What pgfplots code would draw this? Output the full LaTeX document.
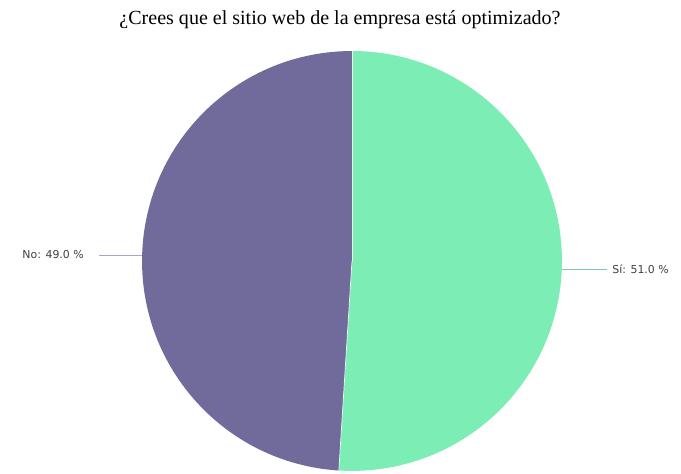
\documentclass[border=0pt]{standalone}
\usepackage{fontspec}
\setmainfont{Liberation Serif}
\newfontfamily\labelfont{DejaVu Sans}
\usepackage{pgfplots}
\usepackage{pgfplotstable}
\pgfplotsset{compat=1.18}
\definecolor{siGreen}{RGB}{124,237,180}
\definecolor{noPurple}{RGB}{112,107,155}
\pgfplotstableread{
label value
Si 51.0
No 49.0
}\piedata
\pgfplotstablegetelem{0}{value}\of\piedata
\let\vsi\pgfplotsretval
\pgfplotstablegetelem{1}{value}\of\piedata
\let\vno\pgfplotsretval
\pgfmathsetmacro\aend{90-3.6*\vsi}
\pgfmathsetmacro\bend{\aend-3.6*\vno}
\begin{document}
\begin{tikzpicture}
\begin{axis}[x=0.02cm,y=0.02cm,xmin=0,xmax=681,ymin=0,ymax=472,
  hide axis, clip=false]
\path (rel axis cs:0,0) rectangle (rel axis cs:1,1);
\fill[siGreen] (axis cs:352,211) -- (axis cs:352,421) arc[start angle=90, end angle=\aend, radius=4.2cm] -- cycle;
\fill[noPurple] (axis cs:352,211) -- ++(\aend:4.2cm) arc[start angle=\aend, end angle=\bend, radius=4.2cm] -- cycle;
\draw[white!80!siGreen, line width=0.4pt] (axis cs:352,211) -- (axis cs:352,421);
\draw[white!80!siGreen, line width=0.4pt] (axis cs:352,211) -- ++(\aend:4.2cm);
\node at (axis cs:340,452) {\fontsize{11.4}{13}\selectfont ¿Crees que el sitio web de la empresa está optimizado?};
\draw[noPurple!60, line width=0.5pt] (axis cs:99,217) -- (axis cs:142,217);
\draw[siGreen!70!gray, line width=0.4pt] (axis cs:562,203) -- (axis cs:607,203);
\node[anchor=east, inner sep=0pt, text=black!75] at (axis cs:84,217) {\labelfont\fontsize{6.2}{7}\selectfont No: 49.0 \%};
\node[anchor=west, inner sep=0pt, text=black!75] at (axis cs:612,203) {\labelfont\fontsize{6.2}{7}\selectfont Sí: 51.0 \%};
\end{axis}
\end{tikzpicture}
\end{document}
